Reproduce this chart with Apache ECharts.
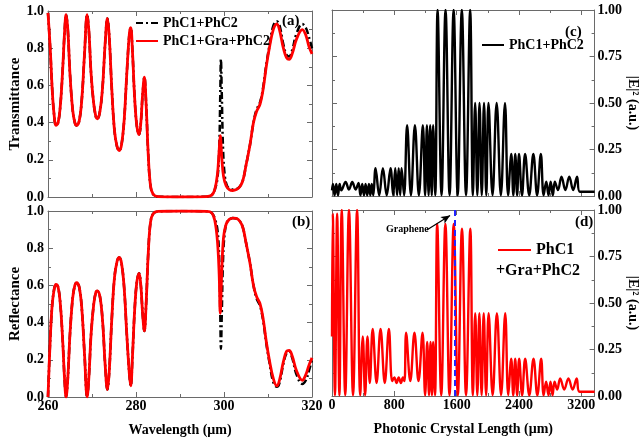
<!DOCTYPE html>
<html><head><meta charset="utf-8">
<script src="https://cdn.jsdelivr.net/npm/echarts@6/dist/echarts.min.js"></script>
<style>html,body{margin:0;padding:0;background:#fff}#c{width:641px;height:443px}</style>
</head><body><div id="c"></div>
<script>
// ---------- data ----------
const wavelengthTicks = [260, 280, 300, 320];
const lengthTicks = [0, 800, 1600, 2400, 3200];

// Transmittance, shared part (both structures coincide below ~297 um)
const transShared = [
[260.0,0.99],[260.5,0.80],[261.0,0.56],[261.4,0.44],[261.8,0.385],[262.3,0.40],[262.8,0.49],[263.3,0.67],[263.8,0.90],[264.1,0.98],
[264.5,0.90],[265.0,0.66],[265.6,0.47],[266.1,0.40],[266.5,0.385],[267.1,0.41],[267.7,0.53],[268.3,0.77],[268.9,0.98],[269.3,0.89],
[269.8,0.66],[270.4,0.50],[270.9,0.43],[271.2,0.42],[271.8,0.46],[272.4,0.59],[273.0,0.83],[273.5,0.96],[273.9,0.87],[274.5,0.58],
[275.1,0.36],[275.7,0.27],[276.2,0.25],[276.7,0.28],[277.3,0.41],[277.9,0.66],[278.5,0.88],[278.8,0.91],[279.2,0.78],[279.7,0.53],
[280.2,0.38],[280.7,0.335],[281.1,0.40],[281.5,0.55],[281.9,0.645],[282.3,0.50],[282.8,0.22],[283.3,0.06],[283.9,0.015],[285.0,0.002],
[290.0,0.0],[296.0,0.002],[297.2,0.01]
];
const transTailPhC = [
[297.9,0.04],[298.5,0.10],[298.9,0.25],[299.15,0.55],[299.3,0.74],[299.5,0.55],[299.8,0.25],[300.2,0.11],[300.7,0.06],[301.3,0.045],
[302.0,0.04],[302.8,0.042],[303.6,0.057],[304.3,0.09],[305.0,0.17],[305.9,0.28],[306.7,0.40],[307.4,0.47],[308.2,0.51],[308.9,0.59],
[309.6,0.71],[310.3,0.81],[311.2,0.92],[312.0,0.945],[312.6,0.925],[313.5,0.82],[314.2,0.765],[314.8,0.755],[315.5,0.79],[316.5,0.88],
[317.8,0.93],[318.6,0.91],[319.3,0.86],[320.0,0.80]
];
const transTailGra = [
[297.9,0.04],[298.5,0.12],[298.9,0.25],[299.15,0.33],[299.5,0.21],[299.9,0.11],[300.5,0.06],[301.2,0.04],[302.0,0.035],[302.8,0.04],
[303.6,0.055],[304.3,0.09],[305.0,0.17],[305.9,0.28],[306.7,0.40],[307.4,0.46],[308.2,0.50],[308.9,0.58],[309.6,0.70],[310.3,0.80],
[311.2,0.90],[312.0,0.93],[312.6,0.90],[313.5,0.80],[314.2,0.75],[314.8,0.74],[315.5,0.77],[316.5,0.85],[317.8,0.90],[318.6,0.87],
[319.3,0.81],[320.0,0.77]
];

// Reflectance
const reflShared = [
[260.0,0.0],[260.4,0.25],[260.9,0.48],[261.4,0.58],[261.8,0.605],[262.3,0.59],[262.8,0.50],[263.3,0.32],[263.8,0.08],[264.1,0.0],
[264.5,0.10],[265.0,0.34],[265.6,0.53],[266.1,0.60],[266.5,0.615],[267.1,0.59],[267.7,0.47],[268.3,0.23],[268.9,0.0],[269.3,0.11],
[269.8,0.34],[270.4,0.50],[270.9,0.565],[271.2,0.57],[271.8,0.54],[272.4,0.41],[273.0,0.17],[273.5,0.04],[273.9,0.13],[274.5,0.42],
[275.1,0.64],[275.7,0.73],[276.2,0.75],[276.7,0.72],[277.3,0.59],[277.9,0.34],[278.5,0.12],[278.8,0.06],[279.2,0.22],[279.7,0.47],
[280.2,0.62],[280.7,0.665],[281.1,0.60],[281.5,0.45],[281.9,0.355],[282.3,0.50],[282.8,0.78],[283.3,0.94],[283.9,0.985],[285.0,0.998],
[290.0,1.0],[296.0,0.998],[297.2,0.99]
];
const reflTailPhC = [
[297.9,0.96],[298.5,0.90],[298.9,0.75],[299.15,0.45],[299.3,0.26],[299.5,0.45],[299.8,0.75],[300.2,0.89],[300.7,0.94],[301.3,0.955],
[302.0,0.962],[302.8,0.96],[303.6,0.945],[304.3,0.91],[305.0,0.83],[305.9,0.72],[306.7,0.60],[307.4,0.53],[308.2,0.49],[308.9,0.41],
[309.6,0.29],[310.3,0.19],[311.2,0.08],[312.0,0.055],[312.6,0.075],[313.5,0.18],[314.2,0.235],[314.8,0.245],[315.5,0.21],[316.5,0.12],
[317.8,0.07],[318.6,0.09],[319.3,0.14],[320.0,0.20]
];
const reflTailGra = [
[297.9,0.95],[298.5,0.84],[298.9,0.66],[299.15,0.45],[299.5,0.68],[299.9,0.86],[300.5,0.93],[301.2,0.955],[302.0,0.962],[302.8,0.96],
[303.6,0.945],[304.3,0.91],[305.0,0.83],[305.9,0.72],[306.7,0.60],[307.4,0.54],[308.2,0.50],[308.9,0.42],[309.6,0.30],[310.3,0.20],
[311.2,0.10],[312.0,0.06],[312.6,0.09],[313.5,0.19],[314.2,0.245],[314.8,0.25],[315.5,0.22],[316.5,0.14],[317.8,0.09],[318.6,0.12],
[319.3,0.17],[320.0,0.21]
];

// |E|^2 along the structure (length in um)
const fieldPhC = [
[0,0.03],[12,0.065],[33,0.004],[55,0.065],[77,0.004],[98,0.065],[120,0.03],
[175,0.075],[218,0.035],[260,0.075],[303,0.035],[340,0.07],[365,0.004],
[388,0.065],[410,0.004],[431,0.065],[452,0.004],[474,0.065],[492,0.004],[510,0.065],[530,0.004],
[559,0.15],[606,0.004],[653,0.15],[702,0.004],[751,0.15],[785,0.004],[812,0.15],[835,0.004],[856,0.15],[875,0.004],[893,0.15],[925,0.004],
[964,0.38],[1013,0.004],[1064,0.38],[1115,0.004],[1166,0.38],[1195,0.004],[1218,0.38],[1240,0.004],[1260,0.38],[1280,0.004],[1298,0.38],[1325,0.004],
[1355,1.0],[1406,0.004],[1457,1.0],[1509,0.004],[1561,1.0],[1613,0.004],[1666,1.0],[1720,0.004],[1773,1.0],[1808,0.004],
[1837,0.5],[1865,0.004],[1893,0.5],[1922,0.004],[1951,0.5],[1980,0.004],[2008,0.5],[2060,0.004],[2113,0.5],[2167,0.004],[2220,0.5],[2260,0.004],
[2301,0.226],[2327,0.004],[2352,0.226],[2376,0.004],[2400,0.226],[2438,0.004],[2478,0.226],[2531,0.004],[2584,0.226],[2632,0.004],[2680,0.226],[2716,0.004],
[2750,0.077],[2779,0.004],[2806,0.077],[2834,0.004],[2860,0.077],[2900,0.032],[2945,0.104],[2995,0.032],[3045,0.104],[3095,0.032],[3145,0.104],[3180,0.023],[3370,0.023]
];
const fieldGra = [
[0,0.32],[10,0.98],[38,0.004],[66,0.98],[95,0.004],[125,1.0],[170,0.004],[218,1.0],[270,0.004],[322,1.0],[362,0.004],
[395,0.32],[425,0.004],[455,0.32],[485,0.07],[522,0.36],[572,0.07],[623,0.36],[677,0.07],[730,0.36],[772,0.08],[800,0.10],[828,0.07],[856,0.10],[884,0.07],[910,0.10],[930,0.08],
[951,0.34],[1005,0.08],[1058,0.34],[1110,0.08],[1162,0.34],[1195,0.004],[1222,0.29],[1245,0.004],[1265,0.29],[1283,0.004],[1298,0.29],[1322,0.004],
[1350,0.925],[1402,0.004],[1455,0.925],[1508,0.004],[1562,0.925],[1615,0.004],[1668,0.90],[1720,0.004],[1775,0.90],[1808,0.004],
[1838,0.445],[1865,0.004],[1891,0.445],[1920,0.004],[1947,0.445],[1978,0.004],[2010,0.445],[2062,0.004],[2116,0.445],[2170,0.004],[2223,0.445],[2262,0.004],
[2300,0.20],[2326,0.004],[2351,0.20],[2376,0.004],[2402,0.20],[2440,0.004],[2479,0.20],[2532,0.004],[2586,0.20],[2635,0.004],[2684,0.20],[2716,0.004],
[2748,0.077],[2778,0.004],[2804,0.077],[2830,0.004],[2856,0.077],[2890,0.035],[2928,0.095],[2980,0.035],[3034,0.095],[3088,0.035],[3140,0.095],[3178,0.023],[3370,0.023]
];
const graphenePosition = 1570;

// ---------- chart ----------
const serif = '"Liberation Serif", "Times New Roman", serif';
const frame = '#6a6a6a';
const chart = echarts.init(document.getElementById('c'), null, {renderer: 'canvas'});

function axisBase(extra) {
  return Object.assign({
    type: 'value',
    axisLine: {show: true, onZero: false, lineStyle: {color: frame, width: 1}},
    axisTick: {show: true, inside: true, length: 5, lineStyle: {color: frame}},
    minorTick: {show: true, splitNumber: 2, length: 3, lineStyle: {color: frame}},
    splitLine: {show: false},
    axisLabel: {show: false}
  }, extra);
}
const lab = (extra) => Object.assign({show: true, color: '#000', fontFamily: serif, fontWeight: 'bold', fontSize: 14}, extra);
const nameStyle = (size) => ({color: '#000', fontFamily: serif, fontWeight: 'bold', fontSize: size});

const wl = {min: wavelengthTicks[0], max: wavelengthTicks[wavelengthTicks.length - 1], interval: wavelengthTicks[1] - wavelengthTicks[0]};
const ln = {min: lengthTicks[0], max: 3370, interval: lengthTicks[1] - lengthTicks[0]};
const yl = {min: 0, max: 1, interval: 0.2};
const yr = {min: 0, max: 1, interval: 0.25};

const xAxis = [
  axisBase(Object.assign({gridIndex: 0, position: 'bottom'}, wl)),
  axisBase(Object.assign({gridIndex: 0, position: 'top'}, wl)),
  axisBase(Object.assign({gridIndex: 1, position: 'bottom', axisLabel: lab({margin: 2, formatter: v => String(v)}),
    name: 'Wavelength (\u03bcm)', nameLocation: 'middle', nameGap: 26, nameTextStyle: nameStyle(14)}, wl)),
  axisBase(Object.assign({gridIndex: 1, position: 'top'}, wl)),
  axisBase(Object.assign({gridIndex: 2, position: 'bottom'}, ln)),
  axisBase(Object.assign({gridIndex: 2, position: 'top'}, ln)),
  axisBase(Object.assign({gridIndex: 3, position: 'bottom', axisLabel: lab({margin: 2, showMaxLabel: false, formatter: v => String(v)}),
    name: 'Photonic Crystal Length (\u03bcm)', nameLocation: 'middle', nameGap: 26, nameTextStyle: nameStyle(14)}, ln)),
  axisBase(Object.assign({gridIndex: 3, position: 'top'}, ln))
];
const yAxis = [
  axisBase(Object.assign({gridIndex: 0, position: 'left', axisLabel: lab({margin: 4, formatter: v => v.toFixed(1)}),
    name: 'Transmittance', nameLocation: 'middle', nameGap: 19, nameTextStyle: nameStyle(15)}, yl)),
  axisBase(Object.assign({gridIndex: 0, position: 'right'}, yl)),
  axisBase(Object.assign({gridIndex: 1, position: 'left', axisLabel: lab({margin: 4, formatter: v => v.toFixed(1)}),
    name: 'Reflectance', nameLocation: 'middle', nameGap: 19, nameTextStyle: nameStyle(15)}, yl)),
  axisBase(Object.assign({gridIndex: 1, position: 'right'}, yl)),
  axisBase(Object.assign({gridIndex: 2, position: 'left'}, yr)),
  axisBase(Object.assign({gridIndex: 2, position: 'right', axisLabel: lab({margin: 3, formatter: v => v.toFixed(2)}),
    name: '|E|\u00b2 (a.u.)', nameLocation: 'middle', nameRotate: -90, nameGap: 26, nameTextStyle: nameStyle(14)}, yr)),
  axisBase(Object.assign({gridIndex: 3, position: 'left'}, yr)),
  axisBase(Object.assign({gridIndex: 3, position: 'right', axisLabel: lab({margin: 3, formatter: v => v.toFixed(2)}),
    name: '|E|\u00b2 (a.u.)', nameLocation: 'middle', nameRotate: -90, nameGap: 26, nameTextStyle: nameStyle(14)}, yr))
];

const lineSeries = (name, data, xi, yi, color, type, width, extra) => Object.assign({
  name, type: 'line', data, xAxisIndex: xi, yAxisIndex: yi, color,
  symbol: 'none', showSymbol: false, smooth: 0.4, animation: false, clip: true,
  lineStyle: {color, width, type}
}, extra || {});
const dashDot = [7, 3, 2, 3];
const legendCommon = {padding: 0, selectedMode: false, itemStyle: {opacity: 0, borderWidth: 0},
  lineStyle: {inactiveWidth: 0}};

const option = {
  backgroundColor: '#fff',
  animation: false,
  grid: [
    {left: 48, top: 11, width: 264, height: 186},
    {left: 48, top: 211, width: 264, height: 186},
    {left: 332, top: 10, width: 264, height: 186},
    {left: 332, top: 210, width: 264, height: 186}
  ],
  xAxis, yAxis,
  legend: [
    Object.assign({data: ['PhC1+PhC2', 'PhC1+Gra+PhC2'], orient: 'vertical', left: 135, top: 16,
     itemWidth: 22, itemHeight: 14, itemGap: 4,
     textStyle: {fontFamily: serif, fontWeight: 'bold', fontSize: 14, color: '#000'}}, legendCommon),
    Object.assign({data: ['E_PhC'], formatter: () => 'PhC1+PhC2', left: 481, top: 38,
     itemWidth: 22, itemHeight: 14,
     textStyle: {fontFamily: serif, fontWeight: 'bold', fontSize: 14, color: '#000'}}, legendCommon),
    Object.assign({data: ['E_Gra'], formatter: () => 'PhC1', left: 497, top: 242,
     itemWidth: 33, itemHeight: 16,
     textStyle: {fontFamily: serif, fontWeight: 'bold', fontSize: 16, color: '#000'}}, legendCommon)
  ],
  series: [
    lineSeries('PhC1+PhC2', transShared.concat(transTailPhC), 0, 0, '#000000', dashDot, 2.5),
    lineSeries('PhC1+Gra+PhC2', transShared.concat(transTailGra), 0, 0, '#ff0000', 'solid', 2.8),
    lineSeries('R PhC1+PhC2', reflShared.concat(reflTailPhC), 2, 2, '#000000', dashDot, 2.5),
    lineSeries('R PhC1+Gra+PhC2', reflShared.concat(reflTailGra), 2, 2, '#ff0000', 'solid', 2.8),
    lineSeries('E_PhC', fieldPhC, 4, 5, '#000000', 'solid', 2.4),
    lineSeries('E_Gra', fieldGra, 6, 7, '#ff0000', 'solid', 2.4, {
      markLine: {
        silent: true, animation: false, label: {show: false}, symbol: ['none', 'none'],
        data: [
          {xAxis: graphenePosition, lineStyle: {color: '#2323ff', type: [6, 4], width: 2}},
          [{coord: [1216, 0.892], symbol: 'none', lineStyle: {color: '#000', width: 1.2, type: 'solid'}},
           {coord: [1515, 0.97], symbol: 'arrow', symbolSize: [6, 9], lineStyle: {color: '#000', width: 1.2, type: 'solid'}}]
        ]
      }
    })
  ],
  graphic: [
    {type: 'text', left: 282, top: 14, style: {text: '(a)', font: 'bold 15px ' + serif, fill: '#000'}},
    {type: 'text', left: 292, top: 215, style: {text: '(b)', font: 'bold 15px ' + serif, fill: '#000'}},
    {type: 'text', left: 565, top: 25, style: {text: '(c)', font: 'bold 15px ' + serif, fill: '#000'}},
    {type: 'text', left: 575, top: 215, style: {text: '(d)', font: 'bold 15px ' + serif, fill: '#000'}},
    {type: 'text', left: 386, top: 224, style: {text: 'Graphene', font: 'bold 10px ' + serif, fill: '#000'}},
    {type: 'text', left: 496, top: 263, style: {text: '+Gra+PhC2', font: 'bold 16px ' + serif, fill: '#000'}}
  ]
};
chart.setOption(option);
</script></body></html>
